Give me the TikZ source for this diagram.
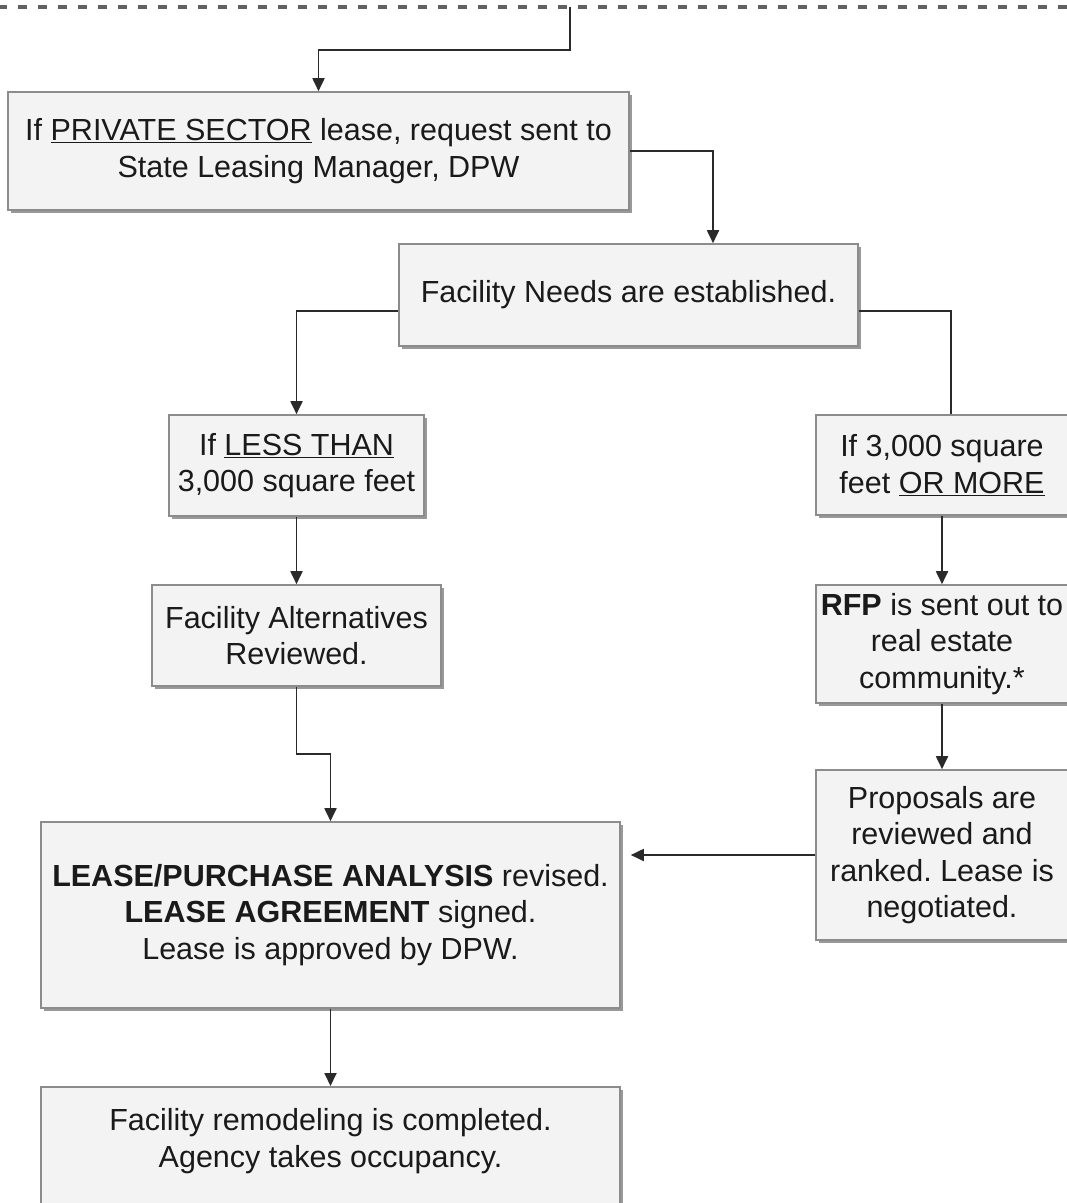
\documentclass[tikz,border=0pt]{standalone}
\usepackage{fontspec}
\setmainfont{Liberation Sans}
\usetikzlibrary{shadows,arrows.meta,calc}
\definecolor{boxfill}{HTML}{F3F3F3}
\definecolor{boxline}{HTML}{8C8C8C}
\definecolor{connc}{HTML}{2A2A2A}
\definecolor{txtc}{HTML}{1A1A1A}
\frenchspacing
\begin{document}
\begin{tikzpicture}[x=1pt,y=-1pt,
  box/.style={draw=boxline, line width=1.6pt, fill=boxfill, inner sep=0pt, align=center,
    text=txtc, font=\fontsize{30.5}{36.5}\selectfont,
    drop shadow={shadow xshift=3pt, shadow yshift=-3pt, fill=black!40, opacity=1}},
  lbl/.style={text=txtc, font=\fontsize{30.5}{36.5}\selectfont, align=center, inner sep=0pt},
  arrowconn/.style={draw=connc, line width=1.8pt, -{Triangle[length=13pt,width=12pt]}},
  plainconn/.style={draw=connc, line width=1.8pt}]
\useasboundingbox (0,0) rectangle (1067,1203);
\fill[white] (0,0) rectangle (1067,1203);

% top dashed border
\coordinate (dl) at (-2,7);
\coordinate (dr) at (1069,7);
\draw[black!22, line width=4pt, dash pattern=on 9pt off 11pt, yshift=-3pt] (dl) -- (dr);
\draw[black!62, line width=4pt, dash pattern=on 9pt off 11pt] (dl) -- (dr);
\coordinate (topc) at (570,7);

% boxes
\node[box, minimum width=621pt, minimum height=118pt] (b1) at (318.5,151)
  {If \underline{PRIVATE SECTOR} lease, request sent to\\State Leasing Manager, DPW};
\node[box, minimum width=459pt, minimum height=102pt] (b2) at (628.5,295)
  {Facility Needs are established.};
\node[box, minimum width=255pt, minimum height=101pt] (b3) at (296.5,465.5)
  {If \underline{LESS THAN}\\3,000 square feet};
\node[box, minimum width=252pt, minimum height=100pt] (b4) at (942,465)
  {If 3,000 square\\feet \underline{OR MORE}};
\node[box, minimum width=289pt, minimum height=101pt] (b5) at (296.5,635.5)
  {Facility Alternatives\\Reviewed.};
\node[box, minimum width=252pt, minimum height=118pt] (b6) at (942,644)
  {\textbf{RFP} is sent out to\\real estate\\community.*};
\node[box, minimum width=252pt, minimum height=170pt] (b7) at (942,855)
  {Proposals are\\reviewed and\\ranked. Lease is\\negotiated.};
\node[box, minimum width=579pt, minimum height=186pt] (b8) at (330.5,915)
  {\textbf{LEASE/PURCHASE ANALYSIS} revised.\\\textbf{LEASE AGREEMENT} signed.\\Lease is approved by DPW.};
\node[box, minimum width=579pt, minimum height=130pt, anchor=north] (b9) at (330.5,1086) {};
\node[lbl] (b9t) at (330.5,1141) {Facility remodeling is completed.\\Agency takes occupancy.};

% connectors
\draw[arrowconn] (topc) -- ++(0,43) -| (b1.north);
\draw[arrowconn] (b1.east) -| ([xshift=84.5pt]b2.north);
\draw[arrowconn] ([yshift=-16pt]b2.west) -| (b3.north);
\draw[plainconn] ([yshift=-16pt]b2.east) -| ([xshift=9pt]b4.north);
\draw[arrowconn] (b3.south) -- (b5.north);
\draw[arrowconn] (b4.south) -- (b6.north);
\draw[arrowconn] (b5.south) -- ++(0,67) -| (b8.north);
\draw[arrowconn] (b6.south) -- (b7.north);
\draw[arrowconn] (b7.west) -- ([xshift=10pt]b8.east |- b7.west);
\draw[arrowconn] (b8.south) -- (b9.north);
\end{tikzpicture}
\end{document}
